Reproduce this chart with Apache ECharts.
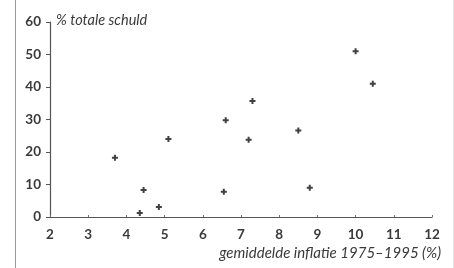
<!DOCTYPE html>
<html>
<head>
<meta charset="utf-8">
<script src="https://cdn.jsdelivr.net/npm/echarts@6/dist/echarts.min.js"></script>
<style>
  html, body { margin: 0; padding: 0; background: #fff; }
  #chart { width: 454px; height: 268px; }
</style>
</head>
<body>
<div id="chart"></div>
<script>
// gemiddelde inflatie 1975-1995 (%) vs % totale schuld
let inflatie = [3.7, 4.45, 4.35, 4.85, 5.1, 6.55, 6.6, 7.2, 7.3, 8.5, 8.8, 10.0, 10.45];
let schuld   = [18.2, 8.3, 1.2, 3.1, 24.0, 7.8, 29.8, 23.8, 35.7, 26.6, 9.0, 51.0, 41.0];
let xTicks = [2, 3, 4, 5, 6, 7, 8, 9, 10, 11, 12];
let yTicks = [0, 10, 20, 30, 40, 50, 60];

let punten = inflatie.map(function (x, i) { return [x, schuld[i]]; });

let myChart = echarts.init(document.getElementById('chart'));

let font = 'Lato';
let option = {
    backgroundColor: '#fff',
    animation: false,
    grid: { left: 50, right: 22, top: 22, bottom: 51 },
    xAxis: {
        type: 'value',
        min: xTicks[0],
        max: xTicks[xTicks.length - 1],
        interval: 1,
        splitLine: { show: false },
        axisLine: { lineStyle: { color: '#555', width: 1.2 } },
        axisTick: { show: true, inside: true, length: 2, lineStyle: { color: '#777' } },
        axisLabel: { color: '#3a3a3a', fontFamily: font, fontSize: 13.5, fontWeight: 'bold', margin: 11 }
    },
    yAxis: {
        type: 'value',
        min: yTicks[0],
        max: yTicks[yTicks.length - 1],
        interval: 10,
        splitLine: { show: false },
        axisLine: { show: true, lineStyle: { color: '#555', width: 1.2 } },
        axisTick: { show: true, length: 4, lineStyle: { color: '#555' } },
        axisLabel: { color: '#3a3a3a', fontFamily: font, fontSize: 13.5, fontWeight: 'bold', margin: 9 }
    },
    series: [{
        type: 'scatter',
        data: punten,
        symbol: 'path://M2,0 L4,0 L4,2 L6,2 L6,4 L4,4 L4,6 L2,6 L2,4 L0,4 L0,2 L2,2 Z',
        symbolSize: 6,
        itemStyle: { color: '#111' }
    }],
    graphic: [
        { type: 'line', shape: { x1: 15.5, y1: 0, x2: 15.5, y2: 268 }, style: { stroke: '#999', lineWidth: 1 } },
        { type: 'line', shape: { x1: 453.5, y1: 0, x2: 453.5, y2: 268 }, style: { stroke: '#e4e4e4', lineWidth: 1 } },
        {
            type: 'text', left: 56, top: 13,
            style: { text: '% totale schuld', font: 'italic 14.5px ' + font, fill: '#3a3a3a' }
        },
        {
            type: 'text', right: 13, top: 246,
            style: { text: 'gemiddelde inflatie 1975–1995 (%)', font: 'italic 15px ' + font, fill: '#3a3a3a' }
        }
    ]
};

myChart.setOption(option);
</script>
</body>
</html>
